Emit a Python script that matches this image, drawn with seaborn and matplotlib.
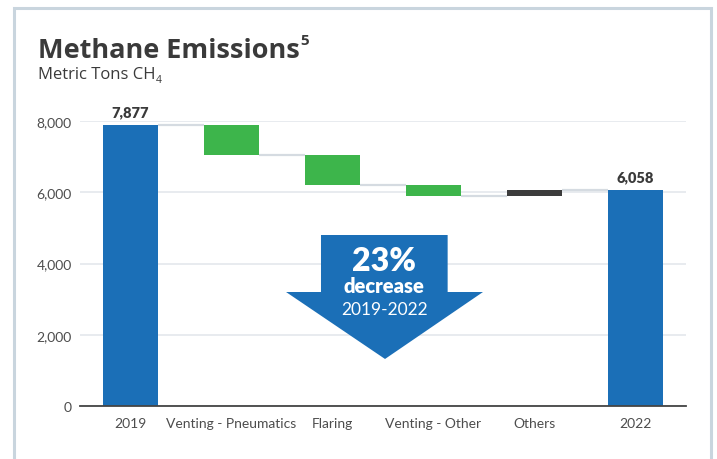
import matplotlib
matplotlib.use("Agg")
import matplotlib.pyplot as plt
from matplotlib.patches import Polygon, Rectangle
import seaborn as sns

# Waterfall data (metric tons CH4)
categories = ["2019", "Venting - Pneumatics", "Flaring", "Venting - Other", "Others", "2022"]
start_value = 7877
changes = [-820, -860, -300, 161]
end_value = 6058
y_ticks = [0, 2000, 4000, 6000, 8000]

BLUE = "#1b6fb7"
GREEN = "#3db54b"
DARK = "#3c3c3c"
TEXT = "#3a3a3a"
TICK = "#4d4d4d"
GRID = "#e4e8ec"

sns.set_theme(style="white")
plt.rcParams["font.family"] = ["Lato", "DejaVu Sans"]

# Build bar bottoms/heights from the running total
levels = [start_value]
for c in changes:
    levels.append(levels[-1] + c)
bottoms = [0]
heights = [start_value]
colors = [BLUE]
for i, c in enumerate(changes):
    bottoms.append(min(levels[i], levels[i + 1]))
    heights.append(abs(c))
    colors.append(GREEN if c < 0 else DARK)
bottoms.append(0)
heights.append(end_value)
colors.append(BLUE)

fig = plt.figure(figsize=(7.17, 4.6), dpi=100)
W, H = 717, 460
ax = fig.add_axes([80 / W, (H - 407) / H, (686 - 80) / W, (407 - 122) / H])

sns.barplot(x=categories, y=heights, bottom=bottoms, color=BLUE,
            width=0.545, saturation=1, linewidth=0, ax=ax, zorder=3)
for patch, col in zip(ax.patches, colors):
    patch.set_facecolor(col)

ax.set_xlim(-0.5, len(categories) - 0.5)
ax.set_ylim(0, 8000)
ax.set_yticks(y_ticks)
ax.set_yticklabels([f"{v:,}" for v in y_ticks])
ax.grid(axis="y", color=GRID, linewidth=1.2, zorder=0)
ax.grid(axis="x", visible=False)
for s in ["left", "right", "top"]:
    ax.spines[s].set_visible(False)
ax.spines["bottom"].set_color("#444444")
ax.spines["bottom"].set_linewidth(1.3)
ax.spines["bottom"].set_zorder(4)
ax.tick_params(axis="both", length=0, labelsize=10, labelcolor=TICK)
ax.tick_params(axis="y", pad=6)
ax.tick_params(axis="x", pad=8)
ax.set_xlabel("")
ax.set_ylabel("")

# Connector lines between consecutive bars
half = 0.545 / 2
for i in range(len(categories) - 1):
    lvl = levels[i]
    ax.plot([i + half, i + 1 - half], [lvl, lvl], color="#d5dbe1",
            linewidth=1.6, zorder=2, solid_capstyle="butt")

# Value labels for the totals
for idx, val in [(0, start_value), (len(categories) - 1, end_value)]:
    ax.text(idx, val + 190, f"{val:,}", ha="center", va="bottom",
            fontsize=10.5, fontweight="heavy", color=TEXT, clip_on=False)

# Big down arrow with the summary
arrow = Polygon([(1.886, 4800), (3.14, 4800), (3.14, 3200), (3.49, 3200),
                 (2.52, 1320), (1.54, 3200), (1.886, 3200)],
                closed=True, facecolor=BLUE, edgecolor="none", zorder=5)
ax.add_patch(arrow)
ax.text(2.513, 4080, "23%", ha="center", va="center", color="white",
        fontsize=23, fontweight="heavy", zorder=6)
ax.text(2.513, 3370, "decrease", ha="center", va="center", color="white",
        fontsize=14.5, fontweight="heavy", zorder=6)
ax.text(2.513, 2730, "2019-2022", ha="center", va="center", color="white",
        fontsize=12.5, zorder=6)

# Title and subtitle
t = fig.text(38 / W, 1 - 58 / H, "Methane Emissions", fontsize=19.5,
             fontweight="bold", color=TEXT, ha="left", va="baseline",
             family=["Open Sans", "DejaVu Sans"])
fig.canvas.draw()
bb = t.get_window_extent()
fig.text(bb.x1 / W + 1 / W, 1 - 45 / H, "5", fontsize=11,
         fontweight="bold", color=TEXT, ha="left", va="baseline",
         family=["Open Sans", "DejaVu Sans"])
s = fig.text(38 / W, 1 - 79 / H, "Metric Tons CH", fontsize=12,
             color=TEXT, ha="left", va="baseline",
             family=["Open Sans", "DejaVu Sans"])
fig.canvas.draw()
sb = s.get_window_extent()
fig.text(sb.x1 / W, 1 - 83 / H, "4", fontsize=7.5, color=TEXT,
         ha="left", va="baseline", family=["Open Sans", "DejaVu Sans"])

# Card border
fig.patches.append(Rectangle((13.5 / W, -0.05), (711 - 13.5) / W,
                             (H - 8.5) / H + 0.05, transform=fig.transFigure,
                             fill=False, edgecolor="#c9d5de", linewidth=2.2,
                             zorder=0))

fig.savefig("out.png", dpi=100)
